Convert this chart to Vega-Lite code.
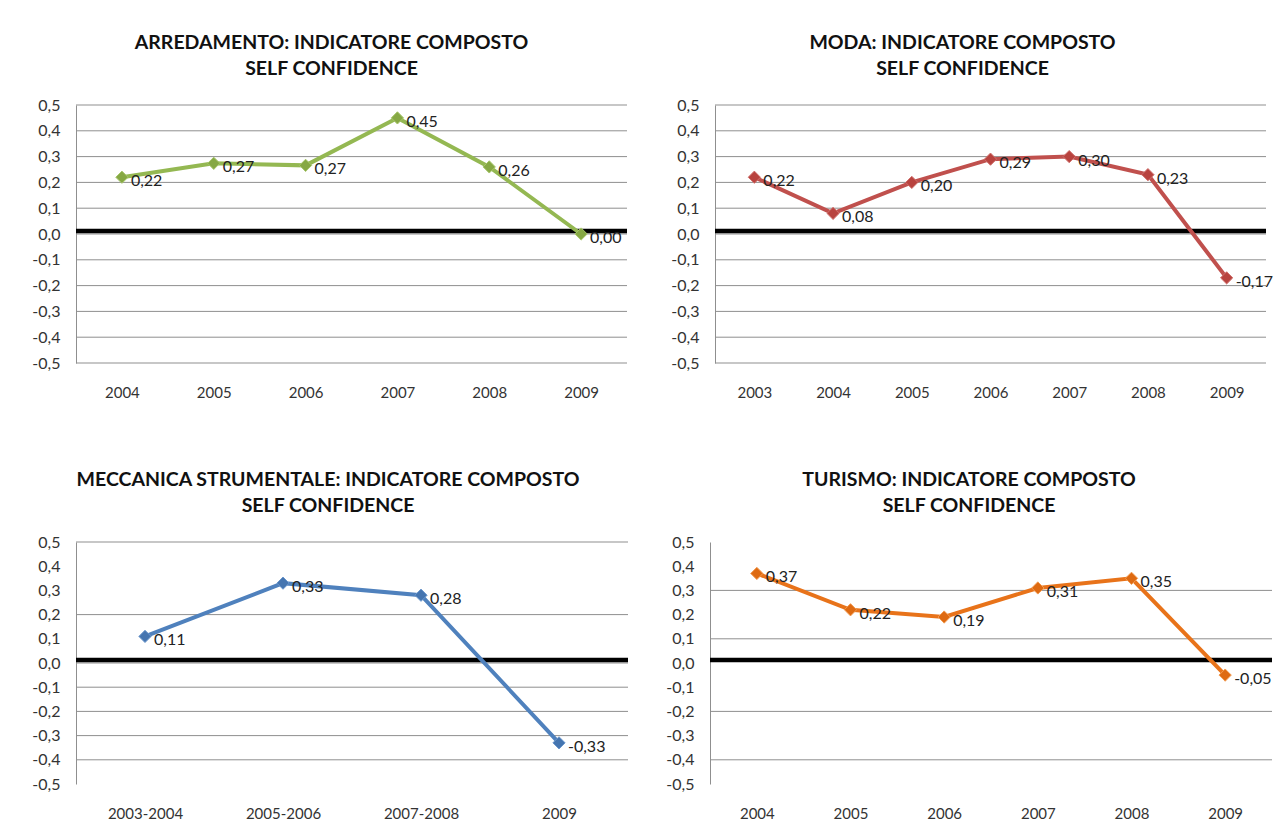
{
  "$schema": "https://vega.github.io/schema/vega-lite/v6.json",
  "padding": {"left": 31, "top": 32, "right": 5, "bottom": 5},
  "background": "white",
  "datasets": {
    "arredamento": [
      {"anno": "2004", "value": 0.22},
      {"anno": "2005", "value": 0.274},
      {"anno": "2006", "value": 0.266},
      {"anno": "2007", "value": 0.45},
      {"anno": "2008", "value": 0.26},
      {"anno": "2009", "value": 0.0}
    ],
    "moda": [
      {"anno": "2003", "value": 0.22},
      {"anno": "2004", "value": 0.08},
      {"anno": "2005", "value": 0.2},
      {"anno": "2006", "value": 0.29},
      {"anno": "2007", "value": 0.3},
      {"anno": "2008", "value": 0.23},
      {"anno": "2009", "value": -0.17}
    ],
    "meccanica": [
      {"anno": "2003-2004", "value": 0.11},
      {"anno": "2005-2006", "value": 0.33},
      {"anno": "2007-2008", "value": 0.28},
      {"anno": "2009", "value": -0.33}
    ],
    "turismo": [
      {"anno": "2004", "value": 0.37},
      {"anno": "2005", "value": 0.22},
      {"anno": "2006", "value": 0.19},
      {"anno": "2007", "value": 0.31},
      {"anno": "2008", "value": 0.35},
      {"anno": "2009", "value": -0.05}
    ],
    "grid_full": [
      {"value": 0.5}, {"value": 0.4}, {"value": 0.3}, {"value": 0.2}, {"value": 0.1},
      {"value": 0.0}, {"value": -0.1}, {"value": -0.2}, {"value": -0.3}, {"value": -0.4}, {"value": -0.5}
    ],
    "grid_meccanica": [
      {"value": 0.5}, {"value": 0.2}, {"value": 0.0}, {"value": -0.1},
      {"value": -0.2}, {"value": -0.3}, {"value": -0.4}
    ],
    "grid_turismo": [
      {"value": 0.3}, {"value": 0.1}, {"value": -0.2}, {"value": -0.4}
    ],
    "zero": [{"value": 0.012}]
  },
  "bounds": "flush",
  "spacing": 437,
  "vconcat": [
    {
      "bounds": "flush",
      "spacing": 88,
      "hconcat": [
        {
          "width": 551,
          "height": 258,
          "title": {"text": ["ARREDAMENTO: INDICATORE COMPOSTO", "SELF CONFIDENCE"], "dx": -20},
          "encoding": {
            "y": {"field": "value", "type": "quantitative", "scale": {"domain": [-0.5, 0.5], "nice": false, "zero": false},
                  "axis": {"values": [-0.5, -0.4, -0.3, -0.2, -0.1, 0, 0.1, 0.2, 0.3, 0.4, 0.5], "format": ".1f", "labelOverlap": false}}
          },
          "layer": [
            {"data": {"name": "grid_full"}, "mark": {"type": "rule", "color": "#8f8f8f", "strokeWidth": 1}, "encoding": {}},
            {"data": {"name": "zero"}, "mark": {"type": "rule", "color": "black", "strokeWidth": 4.5}, "encoding": {}},
            {
              "data": {"name": "arredamento"},
              "mark": {"type": "line", "color": "#94b852", "strokeWidth": 4, "point": {"shape": "diamond", "size": 150, "filled": true, "color": "#86a844", "stroke": "#a6c66a", "strokeWidth": 1}},
              "encoding": {
                "x": {"field": "anno", "type": "ordinal", "sort": null, "scale": {"type": "point", "padding": 0.5}}
              }
            },
            {
              "data": {"name": "arredamento"},
              "mark": {"type": "text", "align": "left", "baseline": "middle", "dx": 9, "dy": 4, "fontSize": 16, "color": "#222"},
              "encoding": {
                "x": {"field": "anno", "type": "ordinal", "sort": null},
                "text": {"field": "value", "type": "quantitative", "format": ".2f"}
              }
            }
          ]
        },
        {
          "width": 551,
          "height": 258,
          "title": {"text": ["MODA: INDICATORE COMPOSTO", "SELF CONFIDENCE"], "dx": -28},
          "encoding": {
            "y": {"field": "value", "type": "quantitative", "scale": {"domain": [-0.5, 0.5], "nice": false, "zero": false},
                  "axis": {"values": [-0.5, -0.4, -0.3, -0.2, -0.1, 0, 0.1, 0.2, 0.3, 0.4, 0.5], "format": ".1f", "labelOverlap": false}}
          },
          "layer": [
            {"data": {"name": "grid_full"}, "mark": {"type": "rule", "color": "#8f8f8f", "strokeWidth": 1}, "encoding": {}},
            {"data": {"name": "zero"}, "mark": {"type": "rule", "color": "black", "strokeWidth": 4.5}, "encoding": {}},
            {
              "data": {"name": "moda"},
              "mark": {"type": "line", "color": "#c0504d", "strokeWidth": 4, "point": {"shape": "diamond", "size": 150, "filled": true, "color": "#b8433f", "stroke": "#d0706c", "strokeWidth": 1}},
              "encoding": {
                "x": {"field": "anno", "type": "ordinal", "sort": null, "scale": {"type": "point", "padding": 0.5}}
              }
            },
            {
              "data": {"name": "moda"},
              "mark": {"type": "text", "align": "left", "baseline": "middle", "dx": 9, "dy": 4, "fontSize": 16, "color": "#222"},
              "encoding": {
                "x": {"field": "anno", "type": "ordinal", "sort": null},
                "text": {"field": "value", "type": "quantitative", "format": ".2f"}
              }
            }
          ]
        }
      ]
    },
    {
      "bounds": "flush",
      "spacing": 82,
      "hconcat": [
        {
          "width": 552,
          "height": 242,
          "title": {"text": ["MECCANICA STRUMENTALE: INDICATORE COMPOSTO", "SELF CONFIDENCE"], "dx": -24},
          "encoding": {
            "y": {"field": "value", "type": "quantitative", "scale": {"domain": [-0.5, 0.5], "nice": false, "zero": false},
                  "axis": {"values": [-0.5, -0.4, -0.3, -0.2, -0.1, 0, 0.1, 0.2, 0.3, 0.4, 0.5], "format": ".1f", "labelOverlap": false}}
          },
          "layer": [
            {"data": {"name": "grid_meccanica"}, "mark": {"type": "rule", "color": "#8f8f8f", "strokeWidth": 1}, "encoding": {}},
            {"data": {"name": "zero"}, "mark": {"type": "rule", "color": "black", "strokeWidth": 4.5}, "encoding": {}},
            {
              "data": {"name": "meccanica"},
              "mark": {"type": "line", "color": "#4f81bd", "strokeWidth": 4, "point": {"shape": "diamond", "size": 150, "filled": true, "color": "#4575b0", "stroke": "#6a96cc", "strokeWidth": 1}},
              "encoding": {
                "x": {"field": "anno", "type": "ordinal", "sort": null, "scale": {"type": "point", "padding": 0.5}}
              }
            },
            {
              "data": {"name": "meccanica"},
              "mark": {"type": "text", "align": "left", "baseline": "middle", "dx": 9, "dy": 4, "fontSize": 16, "color": "#222"},
              "encoding": {
                "x": {"field": "anno", "type": "ordinal", "sort": null},
                "text": {"field": "value", "type": "quantitative", "format": ".2f"}
              }
            }
          ]
        },
        {
          "width": 562,
          "height": 242,
          "title": {"text": ["TURISMO: INDICATORE COMPOSTO", "SELF CONFIDENCE"], "dx": -22},
          "encoding": {
            "y": {"field": "value", "type": "quantitative", "scale": {"domain": [-0.5, 0.5], "nice": false, "zero": false},
                  "axis": {"values": [-0.5, -0.4, -0.3, -0.2, -0.1, 0, 0.1, 0.2, 0.3, 0.4, 0.5], "format": ".1f", "labelOverlap": false}}
          },
          "layer": [
            {"data": {"name": "grid_turismo"}, "mark": {"type": "rule", "color": "#8f8f8f", "strokeWidth": 1}, "encoding": {}},
            {"data": {"name": "zero"}, "mark": {"type": "rule", "color": "black", "strokeWidth": 4.5}, "encoding": {}},
            {
              "data": {"name": "turismo"},
              "mark": {"type": "line", "color": "#e8731a", "strokeWidth": 4, "point": {"shape": "diamond", "size": 150, "filled": true, "color": "#de6a12", "stroke": "#f29a50", "strokeWidth": 1}},
              "encoding": {
                "x": {"field": "anno", "type": "ordinal", "sort": null, "scale": {"type": "point", "padding": 0.5}}
              }
            },
            {
              "data": {"name": "turismo"},
              "mark": {"type": "text", "align": "left", "baseline": "middle", "dx": 9, "dy": 4, "fontSize": 16, "color": "#222"},
              "encoding": {
                "x": {"field": "anno", "type": "ordinal", "sort": null},
                "text": {"field": "value", "type": "quantitative", "format": ".2f"}
              }
            }
          ]
        }
      ]
    }
  ],
  "config": {
    "locale": {"number": {"decimal": ",", "thousands": ".", "grouping": [3], "currency": ["", " €"], "minus": "-"}},
    "font": "Lato",
    "view": {"stroke": null},
    "title": {"fontSize": 19.5, "fontWeight": "bold", "color": "#111", "lineHeight": 26, "anchor": "middle", "baseline": "bottom", "offset": 18},
    "axisY": {"grid": false, "ticks": false, "domain": true, "domainColor": "#8f8f8f", "labelPadding": 16, "labelFontSize": 16, "labelColor": "#333", "labelOverlap": false, "labelFlush": false, "labelBound": false, "title": null},
    "axisX": {"grid": false, "ticks": false, "domain": false, "labelPadding": 22, "labelAngle": 0, "labelFontSize": 15, "labelColor": "#333", "labelOverlap": false, "title": null}
  }
}
